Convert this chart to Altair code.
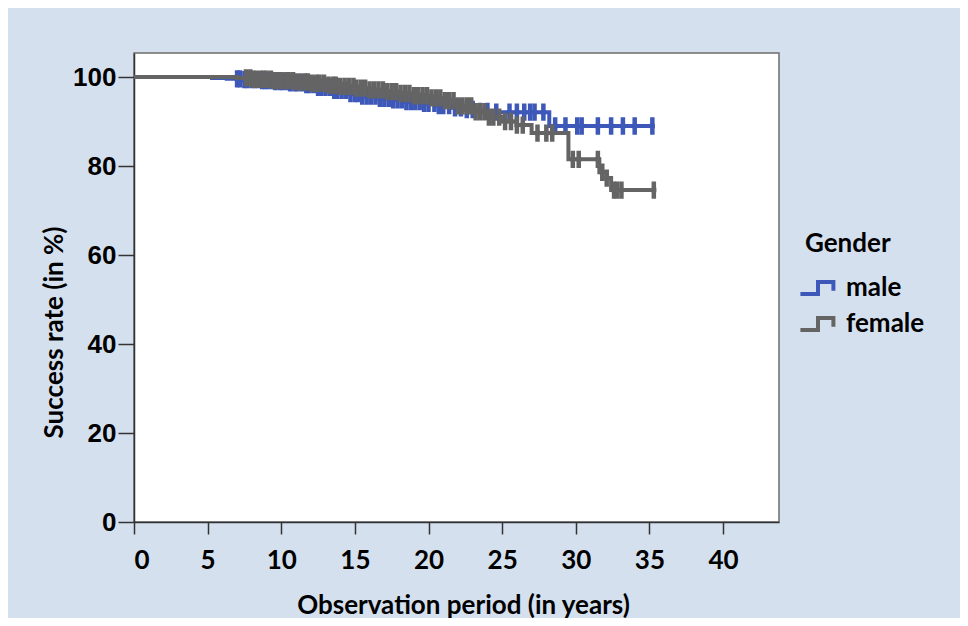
import altair as alt
import pandas as pd
import numpy as np

# ---- Kaplan-Meier data ----
male_step_t = [0, 5.3, 6.3, 7.5, 8.5, 9.5, 10.5, 11.5, 12.5, 13.5, 14.5, 15.5, 16.5,
               17.5, 18.5, 19.5, 20.5, 21.5, 22.5, 23.5, 24.3, 28.2]
male_step_s = [100, 99.8, 99.6, 99.4, 99.2, 99.0, 98.7, 98.3, 97.7, 97.0, 96.3, 95.7, 95.2,
               94.9, 94.5, 94.1, 93.6, 93.1, 92.7, 92.3, 92.1, 89.0]
male_end = 35.3
male_censored = [7.0, 7.2, 7.5, 7.7, 8.0, 8.2, 8.4, 8.7, 8.9, 9.1, 9.4, 9.6, 9.9, 10.1, 10.4,
                 10.6, 10.9, 11.1, 11.4, 11.7, 11.9, 12.2, 12.5, 12.7, 13.0, 13.3, 13.6, 13.8,
                 14.1, 14.4, 14.7, 15.0, 15.2, 15.5, 15.8, 16.1, 16.4, 16.7, 17.0, 17.3, 17.6,
                 17.9, 18.2, 18.5, 18.8, 19.1, 19.4, 19.7, 20.0, 20.4, 20.7, 21.0, 21.4, 21.8,
                 22.2, 22.6, 23.0, 23.5, 24.0, 24.6, 25.5, 26.0, 26.5, 26.9, 27.2, 27.8, 28.6,
                 29.3, 30.1, 30.4, 31.5, 32.4, 33.2, 34.0, 35.2]

female_step_t = [0, 7.0, 8.0, 9.5, 11.0, 12.0, 13.0, 14.0, 15.0, 16.0, 17.0, 18.0, 19.0,
                 20.0, 21.0, 22.0, 23.0, 24.0, 25.0, 26.0, 27.0, 29.5, 31.6, 32.1, 32.4]
female_step_s = [100, 99.8, 99.5, 99.2, 98.9, 98.6, 98.2, 97.9, 97.5, 97.1, 96.7, 96.3, 95.8,
                 95.3, 94.7, 93.5, 92.2, 91.0, 90.0, 89.2, 87.4, 81.5, 78.6, 77.3, 74.6]
female_end = 35.4
female_censored = [7.6, 7.9, 8.1, 8.3, 8.6, 8.8, 9.0, 9.3, 9.5, 9.8, 10.0, 10.3, 10.5, 10.8,
                   11.0, 11.3, 11.6, 11.8, 12.1, 12.4, 12.6, 12.9, 13.2, 13.5, 13.7, 14.0,
                   14.3, 14.6, 14.9, 15.1, 15.4, 15.7, 16.0, 16.3, 16.6, 16.9, 17.2, 17.5,
                   17.8, 18.1, 18.4, 18.7, 19.0, 19.3, 19.6, 19.9, 20.2, 20.5, 20.8, 21.1,
                   21.4, 21.7, 22.0, 22.3, 22.6, 22.9, 23.2, 23.5, 23.8, 24.1, 24.4, 24.8,
                   25.2, 25.6, 26.0, 26.4, 27.4, 28.0, 28.4, 29.8, 30.2, 31.5, 31.8, 32.1,
                   32.6, 32.8, 33.1, 35.3]

groups = ["male", "female"]
colors = ["#3d58b8", "#646464"]
x_ticks = [0, 5, 10, 15, 20, 25, 30, 35, 40]
y_ticks = [0, 20, 40, 60, 80, 100]


def km_frames(ts, ss, end, cens, g):
    line = pd.DataFrame({"t": ts + [end], "s": ss + [ss[-1]], "g": g})
    arr = np.array(ts)
    cs = [ss[int(np.searchsorted(arr, c, side="right")) - 1] for c in cens]
    marks = pd.DataFrame({"t": cens, "s": cs, "g": g})
    return line, marks


male_line, male_marks = km_frames(male_step_t, male_step_s, male_end, male_censored, "male")
fem_line, fem_marks = km_frames(female_step_t, female_step_s, female_end, female_censored, "female")

X = alt.X("t:Q", scale=alt.Scale(domain=[0, 43.8], nice=False, zero=False),
          axis=alt.Axis(values=x_ticks, title="Observation period (in years)",
                        tickSize=12, labelPadding=13, labelFont="Lato", labelFontSize=26,
                        labelFontWeight="bold", titleFont="Lato", titleFontSize=26,
                        titleFontWeight="bold", titleX=329, titleY=91,
                        titleBaseline="alphabetic", titleAnchor="middle"))
Y = alt.Y("s:Q", scale=alt.Scale(domain=[0, 105.4], nice=False, zero=False),
          axis=alt.Axis(values=y_ticks, title="Success rate (in %)", tickSize=16,
                        labelPadding=2, labelFont="Liberation Sans", labelFontSize=26,
                        labelFontWeight="bold", titleFont="Lato", titleFontSize=26,
                        titleFontWeight="bold", titleX=-72, titleY=279, titleAngle=270,
                        titleBaseline="alphabetic"))

step_symbol = "M-1.6,0.55L0,0.55L0,-0.55L1.4,-0.55L1.4,0.25"
C = alt.Color("g:N", scale=alt.Scale(domain=groups, range=colors),
              legend=alt.Legend(title="Gender", orient="none", legendX=671, legendY=178,
                                symbolType=step_symbol, symbolSize=484, symbolStrokeWidth=4,
                                symbolFillColor="transparent",
                                labelFont="Lato", labelFontSize=26, labelFontWeight="bold",
                                labelOffset=15, titleFont="Lato", titleFontSize=26,
                                titleFontWeight="bold", titlePadding=18, rowPadding=6,
                                labelColor="black", titleColor="black"))


def line_layer(df):
    return alt.Chart(df).mark_line(interpolate="step-after", strokeWidth=4).encode(
        x=X, y=Y, color=C)


def mark_layer(df):
    return alt.Chart(df).mark_point(shape="M0,-1L0,1M-0.3,0L0.3,0", size=300,
                                    strokeWidth=4.5, filled=False, opacity=1).encode(
        x=X, y=Y, color=C)


chart = alt.layer(
    line_layer(male_line), mark_layer(male_marks),
    line_layer(fem_line), mark_layer(fem_marks)
).properties(
    width=645, height=469,
    autosize=alt.AutoSizeParams(type="none"),
    padding={"left": 126, "top": 45, "right": 181, "bottom": 96},
    background="#d5e0ef",
).configure_view(
    stroke="#6e6e6e", strokeWidth=1.5, fill="white"
).configure_axis(
    grid=False, domainColor="#333333", domainWidth=1.5, tickColor="#333333",
    tickWidth=1.5, labelColor="black", titleColor="black"
)

chart.save("out.html", embed_options={"renderer": "svg", "actions": False})
